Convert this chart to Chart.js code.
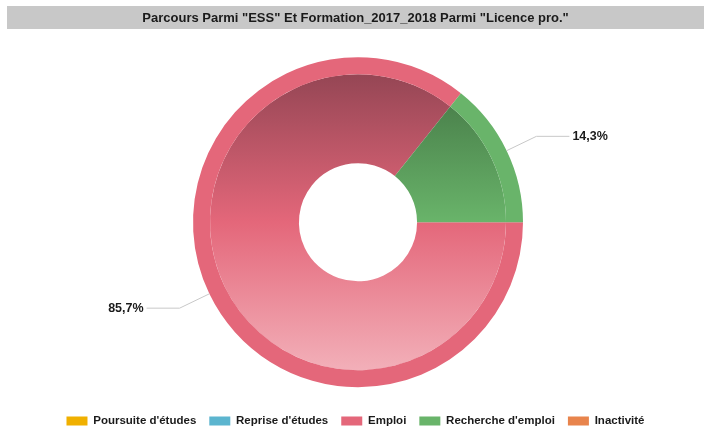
<!DOCTYPE html>
<html>
<head>
<meta charset="utf-8">
<script src="https://cdn.jsdelivr.net/npm/chart.js@4/dist/chart.umd.min.js"></script>
<style>
  html, body { margin: 0; padding: 0; background: #fff; }
  #wrap { width: 711px; height: 432px; }
</style>
</head>
<body>
<div id="wrap"><canvas id="chart"></canvas></div>
<script>
const titleText = 'Parcours Parmi "ESS" Et Formation_2017_2018 Parmi "Licence pro."';
const categories = ["Poursuite d'études", "Reprise d'études", 'Emploi', "Recherche d'emploi", 'Inactivité'];
const values = [0, 0, 6, 1, 0];
const baseColors = ['#f0b000', '#5cb5cf', '#e4677a', '#69b46a', '#e8844c'];
const darkColors = ['#906a00', '#376d7c', '#8c4250', '#3f6e40', '#8b4f2e'];
const lightColors = ['#f8dc90', '#b2dbe8', '#f4b8c0', '#b8dcb8', '#f4c4a6'];

const RADIUS = 165;

function innerGradient(ctx) {
  const chart = ctx.chart;
  const area = chart.chartArea;
  const i = ctx.dataIndex;
  if (!area) return baseColors[i];
  const cy = (area.top + area.bottom) / 2;
  const g = chart.ctx.createLinearGradient(0, cy - RADIUS, 0, cy + RADIUS);
  g.addColorStop(0, darkColors[i]);
  g.addColorStop(0.5, baseColors[i]);
  g.addColorStop(1, lightColors[i]);
  return g;
}

// gray band behind the title, shift legend down a bit
const framePlugin = {
  id: 'frame',
  afterLayout(chart) {
    chart.legend.top += 4.75;
    chart.legend.bottom += 4.75;
    chart.legend.left -= 2.5;
    chart.legend.right -= 2.5;
    chart.titleBlock.left -= 2.5;
    chart.titleBlock.right -= 2.5;
  },
  beforeDraw(chart) {
    const c = chart.ctx;
    c.save();
    c.fillStyle = '#c8c8c8';
    c.fillRect(7, 6, 697, 23);
    c.restore();
  }
};

// percentage labels with leader lines
const labelPlugin = {
  id: 'sliceLabels',
  afterDatasetsDraw(chart) {
    const meta = chart.getDatasetMeta(0);
    const total = values.reduce((a, b) => a + b, 0);
    const c = chart.ctx;
    c.save();
    meta.data.forEach((arc, i) => {
      if (!values[i]) return;
      const mid = (arc.startAngle + arc.endAngle) / 2;
      const cos = Math.cos(mid), sin = Math.sin(mid);
      const r = arc.outerRadius;
      const x0 = arc.x + r * cos, y0 = arc.y + r * sin;
      const x1 = arc.x + (r + 33) * cos, y1 = arc.y + (r + 33) * sin;
      const dir = cos >= 0 ? 1 : -1;
      const x2 = x1 + dir * 33;
      c.strokeStyle = '#c8c8c8';
      c.lineWidth = 1;
      c.beginPath();
      c.moveTo(x0, y0);
      c.lineTo(x1, y1);
      c.lineTo(x2, y1);
      c.stroke();
      const pct = (values[i] / total * 100).toFixed(1).replace('.', ',') + '%';
      c.fillStyle = '#1a1a1a';
      c.font = 'bold 12.5px "Liberation Sans", Arial, sans-serif';
      c.textBaseline = 'middle';
      c.textAlign = dir > 0 ? 'left' : 'right';
      c.fillText(pct, x2 + dir * 3, y1);
    });
    c.restore();
  }
};

new Chart(document.getElementById('chart'), {
  type: 'doughnut',
  data: {
    labels: categories,
    datasets: [
      {
        data: values,
        backgroundColor: baseColors,
        borderWidth: 0,
        weight: 17
      },
      {
        data: values,
        backgroundColor: innerGradient,
        borderWidth: 0,
        weight: 89
      }
    ]
  },
  options: {
    responsive: true,
    maintainAspectRatio: false,
    animation: false,
    rotation: 90,
    radius: RADIUS,
    cutout: '35.8%',
    layout: { padding: { left: 5 } },
    plugins: {
      title: {
        display: true,
        text: titleText,
        color: '#1a1a1a',
        font: { family: '"Liberation Sans", Arial, sans-serif', size: 13, weight: 'bold' },
        padding: { top: 10.5, bottom: 20.9 }
      },
      legend: {
        position: 'bottom',
        labels: {
          boxWidth: 21,
          boxHeight: 9,
          padding: 13,
          color: '#1a1a1a',
          font: { family: '"Liberation Sans", Arial, sans-serif', size: 11.5, weight: 'bold' }
        }
      },
      tooltip: { enabled: false }
    }
  },
  plugins: [framePlugin, labelPlugin]
});
</script>
</body>
</html>
